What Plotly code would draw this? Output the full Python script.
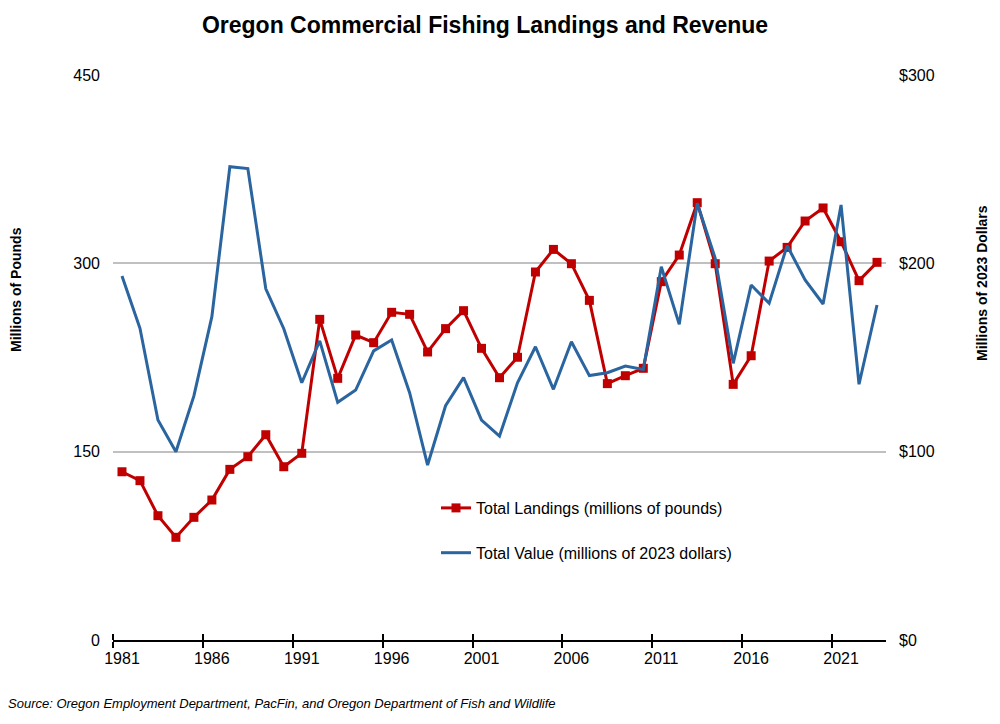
import plotly.graph_objects as go

years = list(range(1981, 2024))
landings = [134.0, 126.9, 99.0, 81.8, 97.7, 111.5, 135.9, 146.0, 163.5, 138.0,
            148.7, 255.4, 208.4, 242.9, 236.8, 261.0, 259.4, 229.4, 248.0, 262.3,
            232.3, 208.9, 225.2, 293.1, 311.1, 299.7, 270.5, 204.2, 210.5, 216.4,
            285.4, 306.6, 348.3, 299.7, 203.6, 226.4, 301.8, 312.7, 333.7, 344.1,
            317.2, 286.2, 300.8]
value = [193.3, 165.5, 116.8, 100.0, 129.6, 171.7, 251.3, 250.3, 186.5, 165.3,
         136.6, 158.8, 126.2, 132.7, 153.5, 159.3, 131.3, 92.9, 124.4, 139.3,
         116.8, 108.3, 136.6, 155.7, 133.1, 158.4, 140.4, 141.9, 145.5, 143.7,
         198.2, 167.6, 231.9, 202.7, 146.9, 188.5, 178.8, 209.4, 191.2, 178.4,
         231.0, 135.8, 177.9]
label_years = [1981, 1986, 1991, 1996, 2001, 2006, 2011, 2016, 2021]
left_ticks = [0, 150, 300, 450]
right_ticks = [0, 100, 200, 300]
right_text = ["$0", "$100", "$200", "$300"]

FONT = "Liberation Sans, Arial, sans-serif"
RED = "#C00000"
BLUE = "#2A65A0"
OFF = 8  # page body margin offset

fig = go.Figure()
fig.add_trace(go.Scatter(
    x=years, y=landings, name="Total Landings (millions of pounds)",
    mode="lines+markers", line=dict(color=RED, width=3),
    marker=dict(symbol="square", size=9, color=RED),
    legendgroup="a", legendrank=1, yaxis="y"))
fig.add_trace(go.Scatter(
    x=years, y=value, name="Total Value (millions of 2023 dollars)",
    mode="lines", line=dict(color=BLUE, width=3),
    legendgroup="b", legendrank=2, yaxis="y2"))

boundaries = [y - 0.5 for y in label_years]

fig.update_layout(
    width=1000, height=724,
    margin=dict(l=113 - OFF, r=1000 - (886 - OFF), t=75 - OFF, b=724 - (640 - OFF)),
    paper_bgcolor="white", plot_bgcolor="white",
    font=dict(family=FONT, size=16, color="black"),
    title=dict(text="<b>Oregon Commercial Fishing Landings and Revenue</b>",
               font=dict(size=23, family=FONT, color="black"),
               xref="container", x=(485 - OFF) / 1000, xanchor="center",
               yref="container", y=1 - (25 - OFF) / 724, yanchor="middle"),
    xaxis=dict(range=[1980.5, 2023.5], tickmode="array", tickvals=label_years,
               ticktext=[str(y) for y in label_years], ticks="", showgrid=False,
               showline=True, linecolor="black", linewidth=2, zeroline=False,
               tickfont=dict(size=16), ticklabelstandoff=3,
               minor=dict(tickmode="array", tickvals=boundaries, ticks="outside",
                          ticklen=6, tickwidth=1.5, tickcolor="black", showgrid=False)),
    xaxis2=dict(range=[1980.5, 2023.5], overlaying="x", anchor="y", side="bottom",
                showticklabels=False, ticks="", showgrid=False, showline=False,
                zeroline=False, tickmode="array", tickvals=label_years,
                minor=dict(tickmode="array", tickvals=boundaries, ticks="inside",
                           ticklen=6, tickwidth=1.5, tickcolor="black", showgrid=False)),
    yaxis=dict(range=[0, 450], tickmode="array", tickvals=left_ticks,
               showgrid=True, gridcolor="#C0C0C0", gridwidth=1.5, zeroline=False,
               showline=False, ticks="", tickfont=dict(size=16), ticklabelstandoff=12),
    yaxis2=dict(range=[0, 300], tickmode="array", tickvals=right_ticks,
                ticktext=right_text, overlaying="y", side="right", anchor="x",
                showgrid=False, zeroline=False, showline=False, ticks="",
                tickfont=dict(size=16), ticklabelstandoff=12),
    legend=dict(x=(436 - 113) / 773, y=(640 - 491) / 565, xanchor="left", yanchor="top",
                bgcolor="rgba(0,0,0,0)", font=dict(size=16, family=FONT),
                traceorder="grouped", tracegroupgap=21, itemwidth=30),
    showlegend=True,
)

# dummy trace to activate xaxis2 for the inner half of the crossing ticks
fig.add_trace(go.Scatter(x=[1981], y=[None], xaxis="x2", yaxis="y",
                         showlegend=False, hoverinfo="skip"))

fig.add_annotation(text="<b>Millions of Pounds</b>", textangle=-90,
                   xref="paper", yref="paper", x=(16 - 113) / 773, y=(640 - 290) / 565,
                   xanchor="center", yanchor="middle", showarrow=False,
                   font=dict(size=14, family=FONT, color="black"))
fig.add_annotation(text="<b>Millions of 2023 Dollars</b>", textangle=-90,
                   xref="paper", yref="paper", x=(982 - 113) / 773, y=(640 - 283) / 565,
                   xanchor="center", yanchor="middle", showarrow=False,
                   font=dict(size=14, family=FONT, color="black"))
fig.add_annotation(text="<i>Source: Oregon Employment Department, PacFin, and Oregon Department of Fish and Wildlife</i>",
                   xref="paper", yref="paper", x=(6 - 113) / 773, y=(640 - 703) / 565,
                   xanchor="left", yanchor="middle", showarrow=False,
                   font=dict(size=13, family=FONT, color="black"))

fig.write_html("out.html")
